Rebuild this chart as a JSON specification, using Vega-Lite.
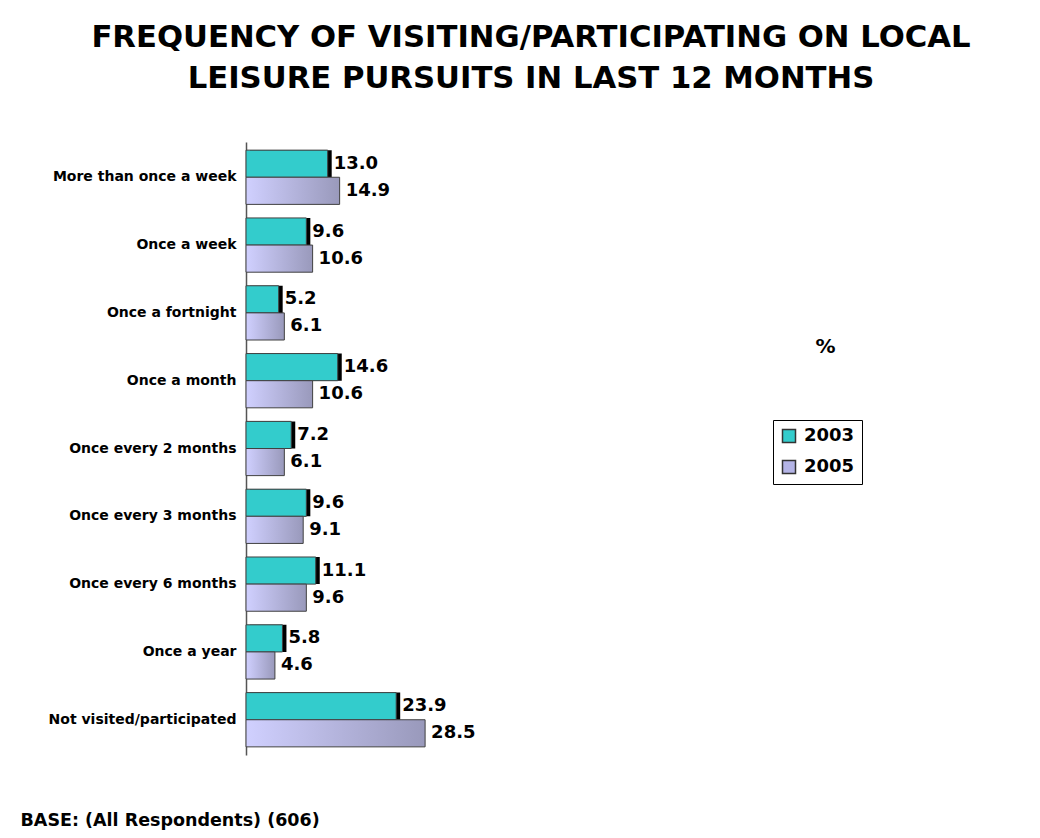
{
  "$schema": "https://vega.github.io/schema/vega-lite/v6.json",
  "width": 570,
  "height": 613,
  "autosize": {"type": "none"},
  "padding": {"left": 246, "top": 142, "right": 224, "bottom": 83},
  "background": "white",
  "title": {
    "text": ["FREQUENCY OF VISITING/PARTICIPATING ON LOCAL", "LEISURE PURSUITS IN LAST 12 MONTHS"],
    "fontSize": 30.7,
    "font": "DejaVu Sans",
    "fontWeight": "bold",
    "color": "black",
    "lineHeight": 41,
    "anchor": "middle",
    "frame": "group",
    "offset": 47
  },
  "data": {
    "values": [
      {"category": "More than once a week", "year": "2003", "value": 13.0},
      {"category": "More than once a week", "year": "2005", "value": 14.9},
      {"category": "Once a week", "year": "2003", "value": 9.6},
      {"category": "Once a week", "year": "2005", "value": 10.6},
      {"category": "Once a fortnight", "year": "2003", "value": 5.2},
      {"category": "Once a fortnight", "year": "2005", "value": 6.1},
      {"category": "Once a month", "year": "2003", "value": 14.6},
      {"category": "Once a month", "year": "2005", "value": 10.6},
      {"category": "Once every 2 months", "year": "2003", "value": 7.2},
      {"category": "Once every 2 months", "year": "2005", "value": 6.1},
      {"category": "Once every 3 months", "year": "2003", "value": 9.6},
      {"category": "Once every 3 months", "year": "2005", "value": 9.1},
      {"category": "Once every 6 months", "year": "2003", "value": 11.1},
      {"category": "Once every 6 months", "year": "2005", "value": 9.6},
      {"category": "Once a year", "year": "2003", "value": 5.8},
      {"category": "Once a year", "year": "2005", "value": 4.6},
      {"category": "Not visited/participated", "year": "2003", "value": 23.9},
      {"category": "Not visited/participated", "year": "2005", "value": 28.5}
    ]
  },
  "encoding": {
    "y": {
      "field": "category",
      "type": "nominal",
      "sort": ["More than once a week", "Once a week", "Once a fortnight", "Once a month", "Once every 2 months", "Once every 3 months", "Once every 6 months", "Once a year", "Not visited/participated"],
      "scale": {"paddingInner": 0.2, "paddingOuter": 0.12},
      "axis": {
        "title": "%",
        "titleAngle": 0,
        "titleX": 579,
        "titleY": 204,
        "titleAlign": "center",
        "titleBaseline": "middle",
        "titleFontSize": 20,
        "titleFontWeight": "bold",
        "titleColor": "black",
        "labelFontSize": 14,
        "labelFontWeight": "bold",
        "labelColor": "black",
        "labelPadding": 10,
        "labelLimit": 300,
        "ticks": false,
        "domainColor": "#555555",
        "domainWidth": 1.5,
        "grid": false
      }
    },
    "yOffset": {
      "field": "year",
      "type": "nominal",
      "scale": {"domain": ["2003", "2005"], "paddingInner": 0, "paddingOuter": 0}
    },
    "x": {
      "field": "value",
      "type": "quantitative",
      "scale": {"domain": [0, 90.7], "nice": false},
      "axis": {
        "title": "BASE: (All Respondents) (606)",
        "titleX": -226,
        "titleY": 65,
        "titleAlign": "left",
        "titleAnchor": "start",
        "titleBaseline": "middle",
        "titleFontSize": 17.5,
        "titleFontWeight": "bold",
        "titleColor": "black",
        "labels": false,
        "ticks": false,
        "domain": false,
        "grid": false
      }
    }
  },
  "layer": [
    {
      "transform": [{"filter": "datum.year === '2003'"}],
      "mark": {"type": "bar", "color": "black", "xOffset": 4}
    },
    {
      "transform": [{"filter": "datum.year === '2003'"}],
      "mark": {"type": "bar", "stroke": "#404040", "strokeWidth": 1},
      "encoding": {
        "color": {
          "field": "year",
          "type": "nominal",
          "scale": {"domain": ["2003", "2005"], "range": ["#33CCCC", "#B4B4E6"]},
          "legend": {
            "title": null,
            "orient": "none",
            "legendX": 527,
            "legendY": 278,
            "strokeColor": "black",
            "fillColor": "white",
            "padding": 7,
            "symbolType": "square",
            "symbolSize": 169,
            "symbolStrokeColor": "#333333",
            "symbolStrokeWidth": 1.5,
            "symbolOpacity": 1,
            "labelFontSize": 18,
            "labelFontWeight": "bold",
            "labelColor": "black",
            "labelOffset": 6,
            "rowPadding": 11
          }
        }
      }
    },
    {
      "transform": [{"filter": "datum.year === '2005'"}],
      "mark": {
        "type": "bar",
        "fill": {"gradient": "linear", "stops": [{"offset": 0, "color": "#D0D0FF"}, {"offset": 1, "color": "#9999BB"}]},
        "stroke": "#404040",
        "strokeWidth": 1
      }
    },
    {
      "transform": [{"filter": "datum.year === '2003'"}],
      "mark": {"type": "text", "align": "left", "baseline": "middle", "dx": 6, "fontSize": 18, "fontWeight": "bold", "color": "black"},
      "encoding": {"text": {"field": "value", "type": "quantitative", "format": ".1f"}}
    },
    {
      "transform": [{"filter": "datum.year === '2005'"}],
      "mark": {"type": "text", "align": "left", "baseline": "middle", "dx": 6, "fontSize": 18, "fontWeight": "bold", "color": "black"},
      "encoding": {"text": {"field": "value", "type": "quantitative", "format": ".1f"}}
    }
  ],
  "config": {
    "view": {"stroke": null},
    "font": "DejaVu Sans"
  }
}
